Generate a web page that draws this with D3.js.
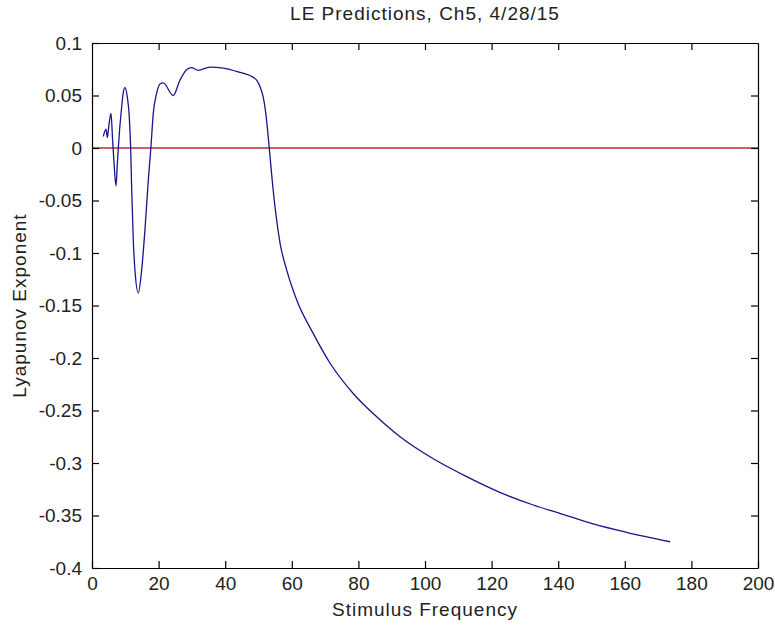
<!DOCTYPE html>
<html>
<head>
<meta charset="utf-8">
<script src="https://cdn.jsdelivr.net/npm/d3@7"></script>
<style>
  body { margin: 0; background: #fff; }
  text { font-family: "Liberation Sans", Arial, sans-serif; }
</style>
</head>
<body>
<div id="chart"></div>
<script>
// stimulus frequency (x) and Lyapunov exponent (y)
const freq = [3.4, 4.2, 4.6, 5.1, 5.7, 6.2, 6.6, 7.2, 7.6, 7.9, 8.9, 9.4, 9.9, 10.6, 11.2, 11.6,
  11.9, 12.4, 12.9, 13.9, 14.9, 15.9, 16.9, 17.7, 18.4, 19.4, 20.4, 21.4, 24.4, 26.4, 28.4,
  29.9, 31.9, 35.4, 39.4, 44.4, 47.4, 49.5, 50.5, 51.4, 52.2, 53.2, 54.4, 56.5, 58.5, 61.5,
  66.5, 71.5, 78.5, 85.5, 92.5, 102.5, 112.5, 122.5, 132.5, 140.5, 150.5, 160.5, 173.6];
const lyap = [0.011, 0.018, 0.010, 0.022, 0.033, 0.007, -0.013, -0.036, -0.016, 0.000, 0.039, 0.053, 0.0575, 0.0486, 0.0295, 0.001,
  -0.037, -0.088, -0.1165, -0.138, -0.1165, -0.078, -0.031, 0.001, 0.033, 0.052, 0.061, 0.062, 0.050, 0.0645, 0.0746,
  0.0766, 0.074, 0.077, 0.076, 0.072, 0.069, 0.0645, 0.058, 0.0486, 0.033, 0.001, -0.040, -0.091, -0.1165, -0.145,
  -0.177, -0.205, -0.234, -0.256, -0.275, -0.296, -0.313, -0.328, -0.340, -0.348, -0.358, -0.366, -0.375];

const xTicks = [0, 20, 40, 60, 80, 100, 120, 140, 160, 180, 200];
const yTicks = [0.1, 0.05, 0, -0.05, -0.1, -0.15, -0.2, -0.25, -0.3, -0.35, -0.4];
const refLine = [0]; // horizontal reference at zero

const W = 775, H = 626;
const margin = { top: 43, right: 17, bottom: 58, left: 92 };

const x = d3.scaleLinear().domain([0, 200]).range([margin.left, W - margin.right]);
const y = d3.scaleLinear().domain([-0.4, 0.1]).range([H - margin.bottom, margin.top]);

const svg = d3.select("#chart").append("svg")
  .attr("width", W).attr("height", H)
  .style("background", "#fff");

const pts = freq.map((f, i) => [f, lyap[i]]);

// red zero line
svg.append("g").selectAll("line").data(refLine).join("line")
  .attr("x1", x(0)).attr("x2", x(200))
  .attr("y1", d => y(d)).attr("y2", d => y(d))
  .attr("stroke", "#c0283a").attr("stroke-width", 1.3);

const line = d3.line().x(d => x(d[0])).y(d => y(d[1])).curve(d3.curveMonotoneX);
svg.append("path").datum(pts)
  .attr("d", line)
  .attr("fill", "none")
  .attr("stroke", "#16168a")
  .attr("stroke-width", 1.3);

const tk = 7;
const fmt = d => String(+d.toFixed(2));

const gx = svg.append("g").attr("transform", `translate(0,${y(-0.4)})`)
  .call(d3.axisBottom(x).tickValues(xTicks).tickSizeInner(-tk).tickSizeOuter(0).tickPadding(9));
const gxt = svg.append("g").attr("transform", `translate(0,${y(0.1)})`)
  .call(d3.axisTop(x).tickValues(xTicks).tickSizeInner(-tk).tickSizeOuter(0).tickFormat(""));
const gy = svg.append("g").attr("transform", `translate(${x(0)},0)`)
  .call(d3.axisLeft(y).tickValues(yTicks).tickSizeInner(-tk).tickSizeOuter(0).tickPadding(10).tickFormat(fmt));
const gyr = svg.append("g").attr("transform", `translate(${x(200)},0)`)
  .call(d3.axisRight(y).tickValues(yTicks).tickSizeInner(-tk).tickSizeOuter(0).tickFormat(""));

[gx, gxt, gy, gyr].forEach(g => {
  g.selectAll("path.domain").attr("stroke", "#000").attr("stroke-width", 1.2);
  g.selectAll(".tick line").attr("stroke", "#000").attr("stroke-width", 1.2);
  g.selectAll("text").attr("fill", "#222").style("font-size", "19px")
    .style("font-family", '"Liberation Sans", Arial, sans-serif');
});
// hide the end ticks that sit on the frame
gxt.selectAll(".tick").filter(d => d === 0 || d === 200).select("line").remove();
gyr.selectAll(".tick").filter(d => d === 0.1 || d === -0.4).select("line").remove();

const label = (sel) => sel.attr("text-anchor", "middle")
  .style("font-size", "19px").style("letter-spacing", "1px").attr("fill", "#222");

svg.append("text")
  .attr("x", (x(0) + x(200)) / 2).attr("y", 20)
  .call(label)
  .text("LE Predictions, Ch5, 4/28/15");

svg.append("text")
  .attr("x", (x(0) + x(200)) / 2).attr("y", 616)
  .call(label)
  .text("Stimulus Frequency");

svg.append("text")
  .attr("transform", `translate(26,${(y(0.1) + y(-0.4)) / 2}) rotate(-90)`)
  .call(label)
  .text("Lyapunov Exponent");
</script>
</body>
</html>
